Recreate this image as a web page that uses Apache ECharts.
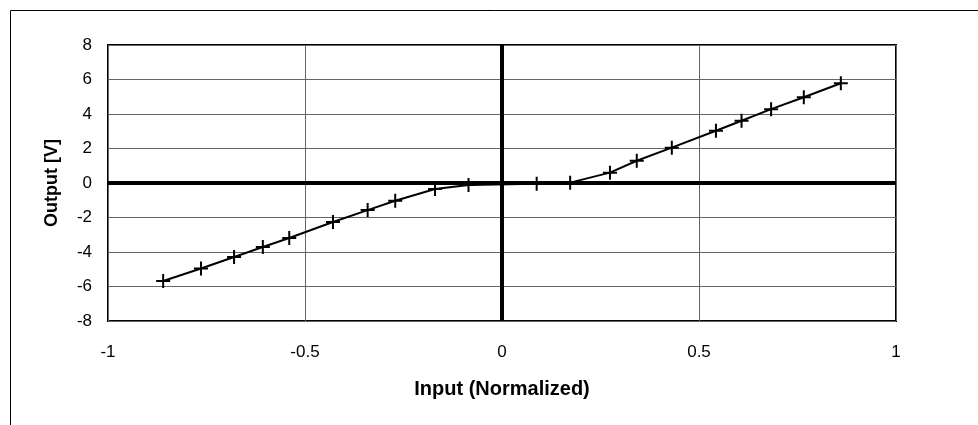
<!DOCTYPE html>
<html>
<head>
<meta charset="utf-8">
<script src="https://cdn.jsdelivr.net/npm/echarts@6/dist/echarts.min.js"></script>
<style>
  html, body { margin: 0; padding: 0; background: #fff; }
  #chart { width: 978px; height: 425px; }
</style>
</head>
<body>
<div id="chart"></div>
<script>
var inputs = [-0.86, -0.764, -0.68, -0.607, -0.54, -0.429, -0.341, -0.271, -0.17, -0.085,
  0.088, 0.173, 0.274, 0.342, 0.431, 0.543, 0.608, 0.683, 0.766, 0.86]
var outputs = [-5.68, -4.96, -4.29, -3.71, -3.19, -2.26, -1.57, -1.03, -0.35, -0.12,
  -0.05, 0.02, 0.6, 1.29, 2.05, 3.03, 3.61, 4.28, 4.97, 5.78]
var xTicks = [-1, -0.5, 0, 0.5, 1]
var yTicks = [-8, -6, -4, -2, 0, 2, 4, 6, 8]

var myChart = echarts.init(document.getElementById('chart'))

var points = inputs.map(function (x, i) { return [x, outputs[i]] })
var font = 'Liberation Sans, Arial, sans-serif'

var option = {
  animation: false,
  graphic: [{
    type: 'rect',
    shape: { x: 10.5, y: 10.5, width: 1000, height: 500 },
    style: { fill: 'none', stroke: '#000', lineWidth: 1 }
  }],
  grid: {
    left: 108, right: 82, top: 45, bottom: 104,
    show: true, borderColor: '#000', borderWidth: 2
  },
  xAxis: {
    type: 'value',
    min: xTicks[0], max: xTicks[xTicks.length - 1], interval: 0.5,
    name: 'Input (Normalized)',
    nameLocation: 'middle',
    nameGap: 58,
    nameTextStyle: { fontFamily: font, fontSize: 20, fontWeight: 'bold', color: '#000' },
    axisLine: { show: false },
    axisTick: { show: false },
    axisLabel: { fontFamily: font, fontSize: 17, color: '#000', margin: 23 },
    splitLine: { lineStyle: { color: '#666', width: 1 } }
  },
  yAxis: {
    type: 'value',
    min: yTicks[0], max: yTicks[yTicks.length - 1], interval: 2,
    name: 'Output [V]',
    nameLocation: 'middle',
    nameGap: 47,
    nameTextStyle: { fontFamily: font, fontSize: 18, fontWeight: 'bold', color: '#000' },
    axisLine: { show: false },
    axisTick: { show: false },
    axisLabel: { fontFamily: font, fontSize: 17, color: '#000', margin: 16 },
    splitLine: { lineStyle: { color: '#666', width: 1 } }
  },
  series: [{
    type: 'line',
    data: points,
    symbol: 'path://M0,5L10,5M5,0L5,10',
    symbolSize: 14,
    itemStyle: { color: 'none', borderColor: '#000', borderWidth: 2 },
    lineStyle: { color: '#000', width: 2 },
    markLine: {
      silent: true,
      symbol: 'none',
      label: { show: false },
      lineStyle: { color: '#000', width: 4, type: 'solid' },
      data: [{ xAxis: 0 }, { yAxis: 0 }]
    }
  }]
}

myChart.setOption(option)
</script>
</body>
</html>
